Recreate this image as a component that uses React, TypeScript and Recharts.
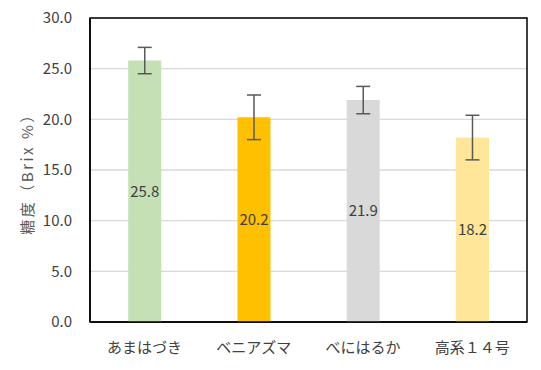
import React from "react";
import { BarChart, Bar, XAxis, YAxis, CartesianGrid, ErrorBar, LabelList, Cell, ReferenceArea } from "recharts";

const categories = ["あまはづき", "ベニアズマ", "べにはるか", "高系１４号"];
const values = [25.8, 20.2, 21.9, 18.2];
const errors = [1.3, 2.2, 1.35, 2.2];
const colors = ["#C5E0B4", "#FFC000", "#D9D9D9", "#FFE699"];
const yTicks = [0, 5, 10, 15, 20, 25, 30];

const data = categories.map((name, i) => ({ name, value: values[i], err: errors[i] }));

const FONT = "'Noto Sans CJK JP', 'Noto Sans', sans-serif";

export default function App() {
  return (
    <div style={{ position: "absolute", left: 0, top: 0, width: 541, height: 370, background: "#fff" }}>
      <BarChart width={541} height={370} data={data} margin={{ top: 18, right: 14, bottom: 18, left: 0 }} barCategoryGap="35%">
        <CartesianGrid vertical={false} stroke="#D9D9D9" strokeWidth={1.3} />
        <XAxis
          dataKey="name"
          height={30}
          axisLine={{ stroke: "#000", strokeWidth: 1.5 }}
          tickLine={false}
          tickMargin={14}
          tick={{ fontSize: 15, fill: "#404040", fontFamily: FONT }}
        />
        <YAxis
          domain={[0, 30]}
          ticks={yTicks}
          tickFormatter={(v: number) => v.toFixed(1)}
          axisLine={{ stroke: "#000", strokeWidth: 1.5 }}
          tickLine={false}
          width={90}
          tickMargin={12}
          tick={{ fontSize: 15, fill: "#404040", fontFamily: FONT }}
          label={{ value: "糖度（Brix %）", angle: -90, position: "insideLeft", offset: 28, style: { textAnchor: "middle", fontSize: 15, letterSpacing: 2.5, fill: "#595959", fontFamily: FONT } }}
        />
        <ReferenceArea y1={0} y2={30} fill="none" fillOpacity={0} stroke="#000" strokeWidth={1.5} ifOverflow="visible" />
        <Bar dataKey="value" isAnimationActive={false}>
          {data.map((d, i) => (
            <Cell key={d.name} fill={colors[i]} />
          ))}
          <ErrorBar dataKey="err" width={7} stroke="#595959" strokeWidth={1.5} />
          <LabelList dataKey="value" position="center" formatter={(v: number) => v.toFixed(1)} style={{ fontSize: 15, fill: "#404040", fontFamily: FONT }} />
        </Bar>
      </BarChart>
    </div>
  );
}
